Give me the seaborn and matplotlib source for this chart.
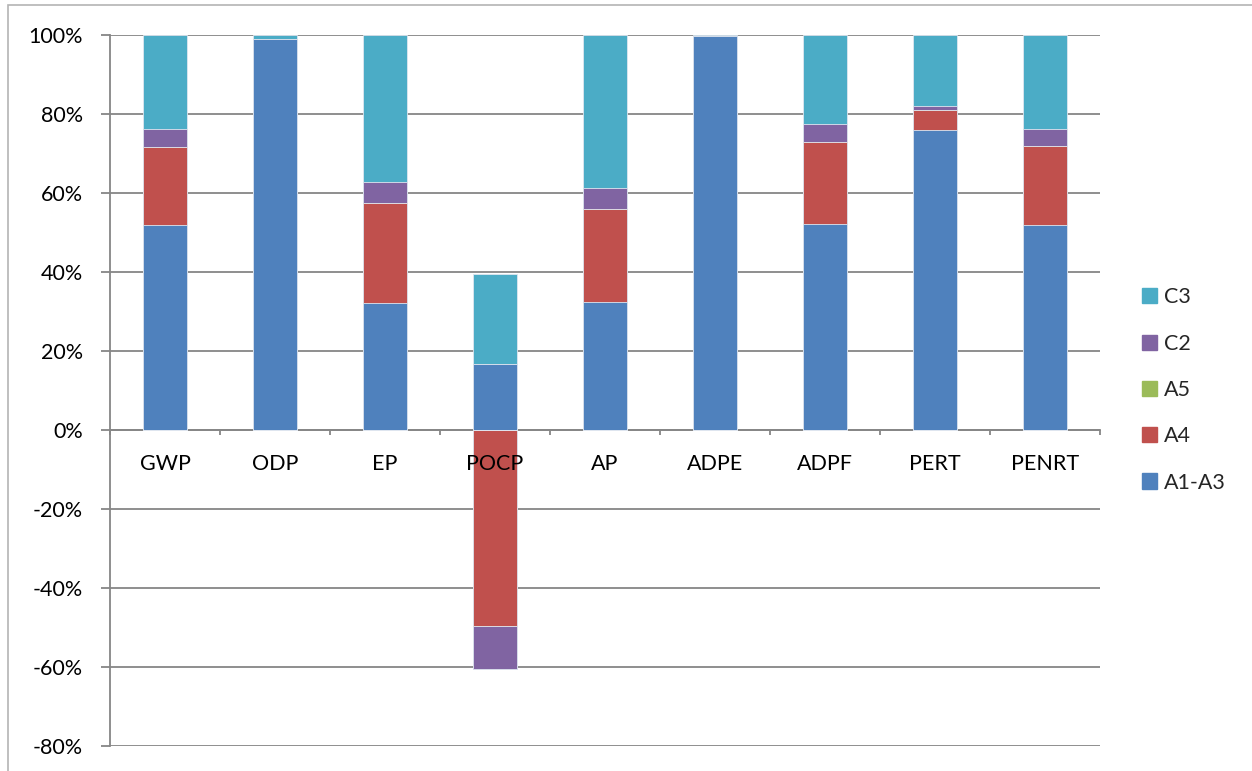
import numpy as np
import pandas as pd
import matplotlib
matplotlib.use("Agg")
import matplotlib.pyplot as plt
import matplotlib.patches as mpatches
import seaborn as sns

# Impact categories and the share (%) contributed by each life-cycle stage
categories = ["GWP", "ODP", "EP", "POCP", "AP", "ADPE", "ADPF", "PERT", "PENRT"]
a1_a3 = [52.0, 99.1, 32.1, 16.7, 32.4, 99.8, 52.1, 75.9, 51.9]
a4 = [19.7, 0.0, 25.3, -49.7, 23.5, 0.0, 20.8, 5.1, 19.9]
a5 = [0.0, 0.0, 0.0, 0.0, 0.0, 0.0, 0.0, 0.0, 0.0]
c2 = [4.4, 0.0, 5.5, -10.8, 5.4, 0.0, 4.5, 0.9, 4.4]
c3 = [23.9, 0.9, 37.1, 22.7, 38.7, 0.2, 22.6, 18.1, 23.8]

series_names = ["A1-A3", "A4", "A5", "C2", "C3"]
series_values = [a1_a3, a4, a5, c2, c3]
series_colors = ["#4F81BD", "#C0504D", "#9BBB59", "#8064A2", "#4BACC6"]

ytick_values = [-80, -60, -40, -20, 0, 20, 40, 60, 80, 100]
ytick_labels = [f"{v}%" for v in ytick_values]

sns.set_theme(style="white")
plt.rcParams["font.family"] = ["Lato", "DejaVu Sans"]

W, H = 1252, 771
fig = plt.figure(figsize=(W / 100, H / 100), dpi=100)
ax = fig.add_axes([110 / W, 1 - 746 / H, (1100 - 110) / W, (746 - 35) / H])

# Stack positive and negative parts separately; draw the cumulative
# totals from the outermost layer inward so each stage shows its own slice.
vals = np.array(series_values)
pos = np.clip(vals, 0, None).cumsum(axis=0)
neg = np.clip(vals, None, 0).cumsum(axis=0)
grid_color = "#868686"

for cum in (pos, neg):
    for i in reversed(range(len(series_names))):
        df = pd.DataFrame({"category": categories, "value": cum[i]})
        sns.barplot(data=df, x="category", y="value", order=categories,
                    color=series_colors[i], saturation=1, width=0.4,
                    edgecolor="#dfe6f0", linewidth=0.6, ax=ax, zorder=3)

ax.set_xlim(-0.5, len(categories) - 0.5)
ax.set_ylim(-80, 100)
ax.set_yticks(ytick_values)
ax.set_yticklabels(ytick_labels)
ax.set_xlabel("")
ax.set_ylabel("")

ax.yaxis.grid(True, color=grid_color, linewidth=1.3, zorder=0)
ax.set_axisbelow(True)
# category labels sit on top of the bars (POCP crosses its label)
ax.xaxis.set_zorder(5)

for side in ("top", "right"):
    ax.spines[side].set_visible(False)
ax.spines["left"].set_color(grid_color)
ax.spines["left"].set_linewidth(1.3)
ax.spines["bottom"].set_position(("data", 0))
ax.spines["bottom"].set_color(grid_color)
ax.spines["bottom"].set_linewidth(1.3)
ax.spines["bottom"].set_zorder(2)

ax.tick_params(axis="y", which="major", direction="out", length=6.5,
               width=1.3, color=grid_color, labelsize=15.5, pad=13,
               labelcolor="black", left=True)
ax.tick_params(axis="x", which="major", length=0, labelsize=15.5, pad=17,
               labelcolor="black", bottom=True)
ax.set_xticks(np.arange(len(categories) + 1) - 0.5, minor=True)
ax.tick_params(axis="x", which="minor", direction="out", length=3.5,
               width=1.3, color=grid_color, bottom=True)

handles = [mpatches.Patch(color=c, label=n)
           for n, c in zip(series_names, series_colors)][::-1]
fig.legend(handles=handles, loc="center left",
           bbox_to_anchor=(1133 / W, 1 - 390 / H), bbox_transform=fig.transFigure,
           frameon=False, fontsize=15.5, handlelength=0.7, handleheight=0.7,
           handletextpad=0.35, labelspacing=1.22, borderaxespad=0)

# Light chart-area frame
fig.patches.append(mpatches.Rectangle((8 / W, -0.05), 1.2, 1 - 5 / H + 0.05,
                                      transform=fig.transFigure, fill=False,
                                      edgecolor="#b4b4b4", linewidth=1.2))

fig.savefig("out.png", dpi=100, facecolor="white")
